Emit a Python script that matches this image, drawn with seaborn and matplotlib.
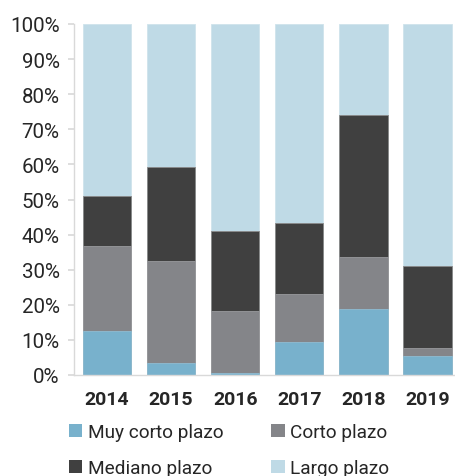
import matplotlib
matplotlib.use("Agg")
import matplotlib.pyplot as plt
import seaborn as sns
import pandas as pd
import numpy as np
from matplotlib.patches import Patch

years = ["2014", "2015", "2016", "2017", "2018", "2019"]
muy_corto = [12.6, 3.3, 0.6, 9.3, 18.7, 5.5]
corto = [24.2, 29.2, 17.5, 13.8, 14.8, 2.2]
mediano = [14.2, 26.7, 23.0, 20.2, 40.5, 23.4]
largo = [49.0, 40.8, 58.9, 56.7, 26.0, 68.9]

series_names = ["Muy corto plazo", "Corto plazo", "Mediano plazo", "Largo plazo"]
colors = ["#78B1CC", "#848589", "#404040", "#BFDAE6"]
edges = ["#8fbcd2", "#9a9b9e", "#8a8a8a", "#cfe3ec"]

sns.set_theme(style="white")
plt.rcParams["font.family"] = ["Roboto", "DejaVu Sans"]

df = pd.DataFrame({"year": years, "muy": muy_corto, "corto": corto,
                   "mediano": mediano, "largo": largo})
cols = ["muy", "corto", "mediano", "largo"]
cum = df[cols].cumsum(axis=1) / 100.0

fig = plt.figure(figsize=(4.55, 4.77), dpi=100)
ax = fig.add_axes([73.5 / 455, 1 - 376 / 477, (455 - 73.5) / 455, (376 - 25) / 477])

for i in range(len(cols) - 1, -1, -1):
    d = pd.DataFrame({"year": years, "v": cum[cols[i]].values})
    sns.barplot(data=d, x="year", y="v", color=colors[i], ax=ax, width=0.755,
                saturation=1, edgecolor=edges[i], linewidth=0.6, zorder=2)

ax.set_xlim(-0.523, 5.43)
ax.set_ylim(0, 1)
ax.set_yticks(np.arange(0, 1.01, 0.1))
ax.set_yticklabels([f"{int(round(t*100))}%" for t in np.arange(0, 1.01, 0.1)])
ax.set_xlabel("")
ax.set_ylabel("")
for s in ["top", "right"]:
    ax.spines[s].set_visible(False)
for s in ["left", "bottom"]:
    ax.spines[s].set_color("#D9D9D9")
    ax.spines[s].set_linewidth(1.0)
ax.tick_params(axis="y", which="both", left=True, length=4, color="#D9D9D9",
               labelsize=14.8, labelcolor="#262626", pad=6)
ax.tick_params(axis="x", bottom=False, labelsize=14, labelcolor="#262626", pad=5)
for lab in ax.get_xticklabels():
    lab.set_fontweight("bold")

handles = [Patch(facecolor=c, edgecolor="none") for c in colors]
order = [0, 2, 1, 3]
fig.legend([handles[i] for i in order], [series_names[i] for i in order],
           ncol=2, loc="upper left", bbox_to_anchor=(52 / 455, 1 - 407 / 477),
           frameon=False, fontsize=13.7, handlelength=0.7, handleheight=0.7,
           handletextpad=0.3, columnspacing=2.5, labelspacing=0.95,
           labelcolor="#262626")

fig.savefig("out.png", dpi=100)
